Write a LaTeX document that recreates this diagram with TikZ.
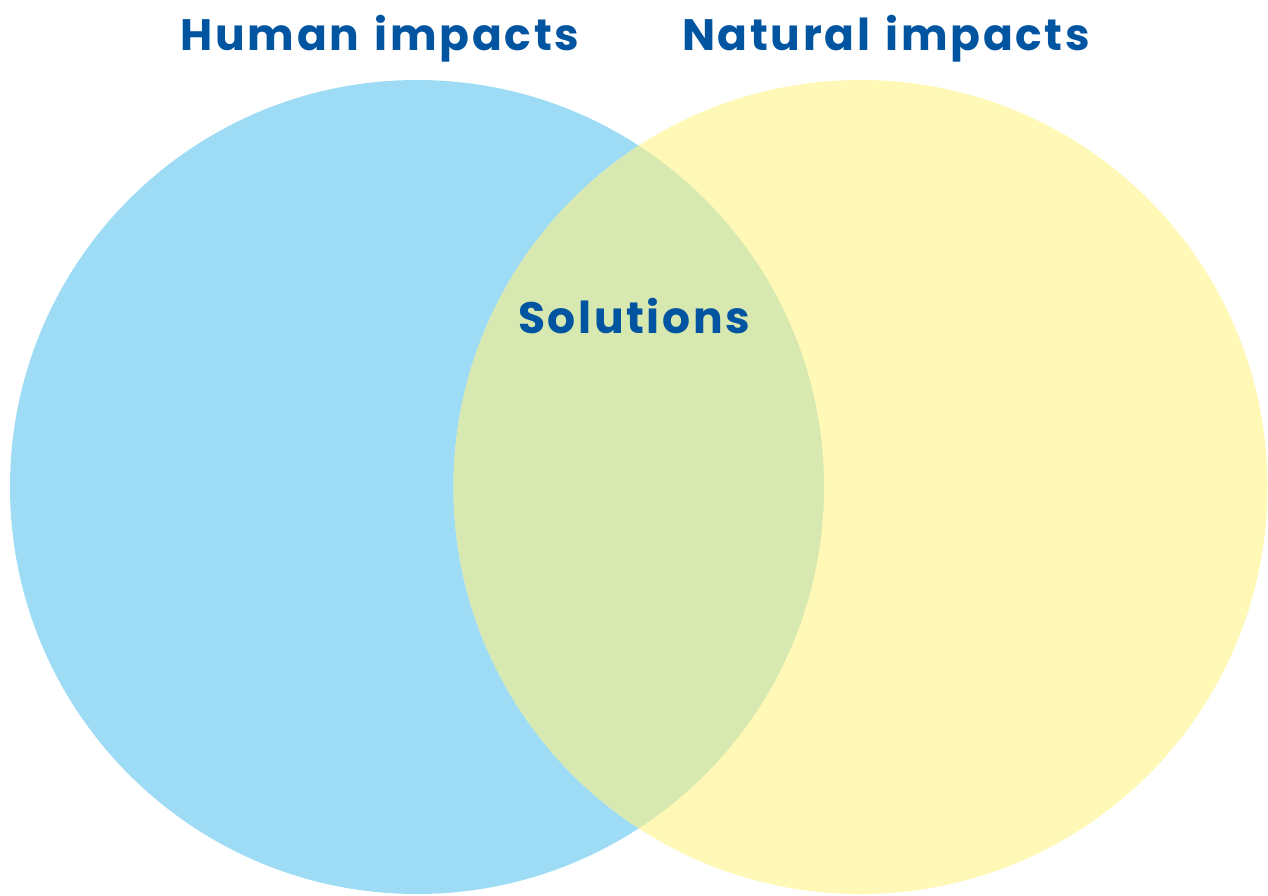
\documentclass[tikz,border=0pt]{standalone}
\usepackage{fontspec}
\newfontfamily\labelfont[LetterSpace=6,WordSpace=1.3]{Poppins Bold}
\definecolor{humanblue}{HTML}{9EDCF5}
\definecolor{naturalyellow}{HTML}{FFF8B6}
\definecolor{overlapgreen}{HTML}{D7E9B1}
\definecolor{textblue}{HTML}{0054A0}
\begin{document}
\begin{tikzpicture}[x=1pt,y=-1pt,
  title/.style={font=\labelfont\fontsize{44}{48}\selectfont, text=textblue, inner sep=0pt}]
\useasboundingbox (0,0) rectangle (1268,895);
\fill[humanblue] (417,487) circle (407);
\fill[naturalyellow] (860.5,487) circle (407);
\begin{scope}
\clip (417,487) circle (407);
\fill[overlapgreen] (860.5,487) circle (407);
\end{scope}
\node[title, anchor=base] (human) at (380,50) {Human impacts};
\node[title, anchor=base] (natural) at (886,50) {Natural impacts};
\node[title, anchor=base] (solutions) at (634,333) {Solutions};
\end{tikzpicture}
\end{document}
